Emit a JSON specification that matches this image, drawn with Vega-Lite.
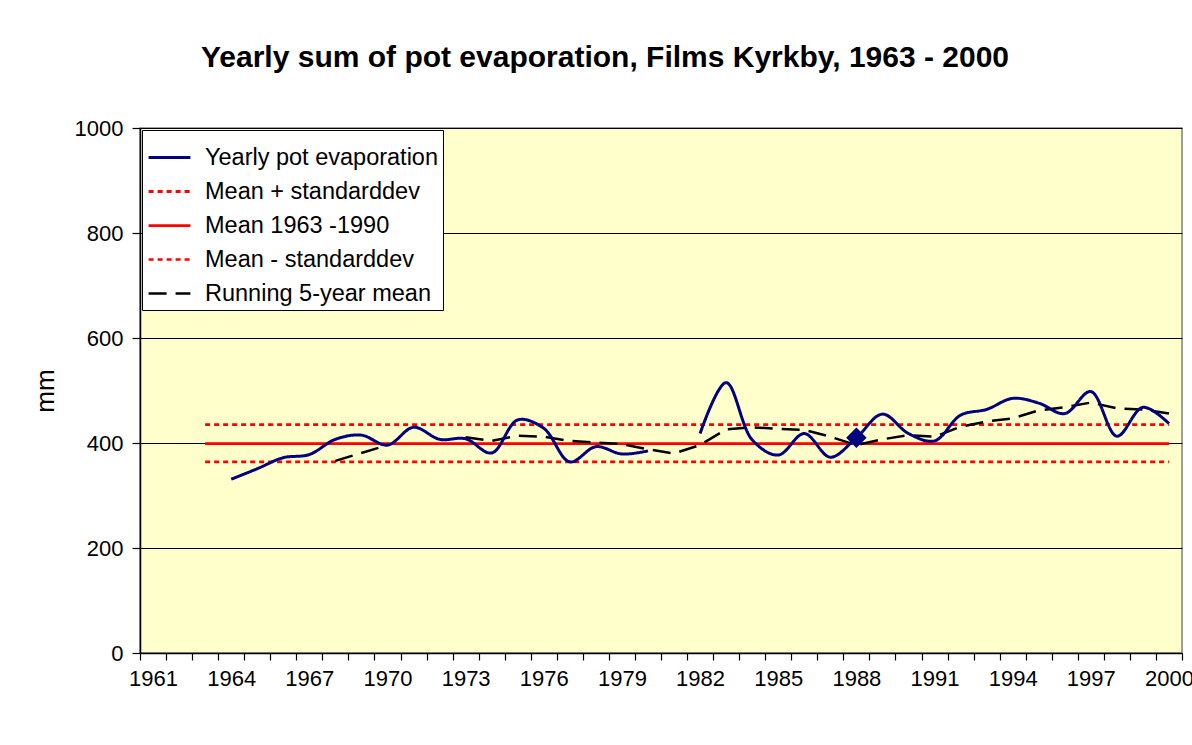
{
  "$schema": "https://vega.github.io/schema/vega-lite/v6.json",
  "width": 1042,
  "height": 525,
  "autosize": {"type": "none"},
  "padding": {"left": 140, "top": 128, "right": 10, "bottom": 92},
  "background": "white",
  "config": {
    "font": "Liberation Sans",
    "view": {"fill": "#FFFFCC", "stroke": "#808080", "strokeWidth": 1.5},
    "axis": {"labelFont": "Liberation Sans", "titleFont": "Liberation Sans", "labelColor": "black", "titleColor": "black", "domainColor": "black", "tickColor": "black"}
  },
  "title": {
    "text": "Yearly sum of pot evaporation, Films Kyrkby, 1963 - 2000",
    "font": "Liberation Sans",
    "fontSize": 30,
    "fontWeight": "bold",
    "color": "black",
    "anchor": "middle",
    "frame": "group",
    "dx": -56,
    "baseline": "alphabetic",
    "offset": 20
  },
  "data": {
    "values": [
      {"year": 1964, "series": "Yearly pot evaporation", "value": 331},
      {"year": 1965, "series": "Yearly pot evaporation", "value": 351},
      {"year": 1966, "series": "Yearly pot evaporation", "value": 372},
      {"year": 1967, "series": "Yearly pot evaporation", "value": 378},
      {"year": 1968, "series": "Yearly pot evaporation", "value": 407},
      {"year": 1969, "series": "Yearly pot evaporation", "value": 415},
      {"year": 1970, "series": "Yearly pot evaporation", "value": 396},
      {"year": 1971, "series": "Yearly pot evaporation", "value": 430},
      {"year": 1972, "series": "Yearly pot evaporation", "value": 407},
      {"year": 1973, "series": "Yearly pot evaporation", "value": 408},
      {"year": 1974, "series": "Yearly pot evaporation", "value": 381},
      {"year": 1975, "series": "Yearly pot evaporation", "value": 444},
      {"year": 1976, "series": "Yearly pot evaporation", "value": 428},
      {"year": 1977, "series": "Yearly pot evaporation", "value": 364},
      {"year": 1978, "series": "Yearly pot evaporation", "value": 393},
      {"year": 1979, "series": "Yearly pot evaporation", "value": 379},
      {"year": 1980, "series": "Yearly pot evaporation", "value": 385},
      {"year": 1981, "series": "Yearly pot evaporation", "value": null},
      {"year": 1982, "series": "Yearly pot evaporation", "value": 418},
      {"year": 1983, "series": "Yearly pot evaporation", "value": 515},
      {"year": 1984, "series": "Yearly pot evaporation", "value": 406},
      {"year": 1985, "series": "Yearly pot evaporation", "value": 377},
      {"year": 1986, "series": "Yearly pot evaporation", "value": 418},
      {"year": 1987, "series": "Yearly pot evaporation", "value": 373},
      {"year": 1988, "series": "Yearly pot evaporation", "value": 410},
      {"year": 1989, "series": "Yearly pot evaporation", "value": 455},
      {"year": 1990, "series": "Yearly pot evaporation", "value": 418},
      {"year": 1991, "series": "Yearly pot evaporation", "value": 404},
      {"year": 1992, "series": "Yearly pot evaporation", "value": 453},
      {"year": 1993, "series": "Yearly pot evaporation", "value": 464},
      {"year": 1994, "series": "Yearly pot evaporation", "value": 485},
      {"year": 1995, "series": "Yearly pot evaporation", "value": 476},
      {"year": 1996, "series": "Yearly pot evaporation", "value": 456},
      {"year": 1997, "series": "Yearly pot evaporation", "value": 498},
      {"year": 1998, "series": "Yearly pot evaporation", "value": 413},
      {"year": 1999, "series": "Yearly pot evaporation", "value": 468},
      {"year": 2000, "series": "Yearly pot evaporation", "value": 437},
      {"year": 1963, "series": "Mean + standarddev", "value": 435},
      {"year": 2000, "series": "Mean + standarddev", "value": 435},
      {"year": 1963, "series": "Mean 1963 -1990", "value": 399},
      {"year": 2000, "series": "Mean 1963 -1990", "value": 399},
      {"year": 1963, "series": "Mean - standarddev", "value": 364},
      {"year": 2000, "series": "Mean - standarddev", "value": 364},
      {"year": 1968, "series": "Running 5-year mean", "value": 366},
      {"year": 1969, "series": "Running 5-year mean", "value": 381},
      {"year": 1970, "series": "Running 5-year mean", "value": 396},
      {"year": 1971, "series": "Running 5-year mean", "value": null},
      {"year": 1972, "series": "Running 5-year mean", "value": null},
      {"year": 1973, "series": "Running 5-year mean", "value": 411},
      {"year": 1974, "series": "Running 5-year mean", "value": 404},
      {"year": 1975, "series": "Running 5-year mean", "value": 414},
      {"year": 1976, "series": "Running 5-year mean", "value": 412},
      {"year": 1977, "series": "Running 5-year mean", "value": 404},
      {"year": 1978, "series": "Running 5-year mean", "value": 401},
      {"year": 1979, "series": "Running 5-year mean", "value": 398},
      {"year": 1980, "series": "Running 5-year mean", "value": 388},
      {"year": 1981, "series": "Running 5-year mean", "value": 380},
      {"year": 1982, "series": "Running 5-year mean", "value": 396},
      {"year": 1983, "series": "Running 5-year mean", "value": 426},
      {"year": 1984, "series": "Running 5-year mean", "value": 430},
      {"year": 1985, "series": "Running 5-year mean", "value": 427},
      {"year": 1986, "series": "Running 5-year mean", "value": 425},
      {"year": 1987, "series": "Running 5-year mean", "value": 412},
      {"year": 1988, "series": "Running 5-year mean", "value": 396},
      {"year": 1989, "series": "Running 5-year mean", "value": 407},
      {"year": 1990, "series": "Running 5-year mean", "value": 415},
      {"year": 1991, "series": "Running 5-year mean", "value": 412},
      {"year": 1992, "series": "Running 5-year mean", "value": 431},
      {"year": 1993, "series": "Running 5-year mean", "value": 441},
      {"year": 1994, "series": "Running 5-year mean", "value": 447},
      {"year": 1995, "series": "Running 5-year mean", "value": 462},
      {"year": 1996, "series": "Running 5-year mean", "value": 468},
      {"year": 1997, "series": "Running 5-year mean", "value": 477},
      {"year": 1998, "series": "Running 5-year mean", "value": 466},
      {"year": 1999, "series": "Running 5-year mean", "value": 464},
      {"year": 2000, "series": "Running 5-year mean", "value": 456},
      {"year": 1988, "series": "Marker", "value": 410}
    ]
  },
  "encoding": {
    "x": {
      "field": "year",
      "type": "ordinal",
      "bandPosition": 0.5,
      "scale": {
        "type": "band",
        "paddingInner": 0,
        "paddingOuter": 0,
        "domain": [1961,1962,1963,1964,1965,1966,1967,1968,1969,1970,1971,1972,1973,1974,1975,1976,1977,1978,1979,1980,1981,1982,1983,1984,1985,1986,1987,1988,1989,1990,1991,1992,1993,1994,1995,1996,1997,1998,1999,2000]
      },
      "axis": {
        "title": null,
        "tickBand": "extent",
        "labelAngle": 0,
        "labelFontSize": 22,
        "labelPadding": 8,
        "labelOverlap": false,
        "tickSize": 7,
        "tickWidth": 1.2,
        "domainWidth": 1.5,
        "grid": false,
        "labelExpr": "(toNumber(datum.value) - 1961) % 3 == 0 ? datum.label : ''"
      }
    },
    "y": {
      "field": "value",
      "type": "quantitative",
      "scale": {"domain": [0, 1000], "nice": false},
      "axis": {
        "title": "mm",
        "titleFontSize": 26,
        "titleFontWeight": "normal",
        "titlePadding": 16,
        "format": "d",
        "values": [0, 200, 400, 600, 800, 1000],
        "labelFontSize": 22,
        "labelPadding": 9,
        "tickSize": 8,
        "tickWidth": 1.2,
        "domainWidth": 1.5,
        "grid": true,
        "gridColor": "black",
        "gridOpacity": 1,
        "gridWidth": 1
      }
    }
  },
  "layer": [
    {
      "transform": [{"filter": "datum.series != 'Yearly pot evaporation' && datum.series != 'Marker'"}],
      "mark": {"type": "line", "interpolate": "linear", "invalid": "break-paths-show-domains"},
      "encoding": {
        "color": {
          "field": "series",
          "type": "nominal",
          "scale": {
            "domain": ["Yearly pot evaporation", "Mean + standarddev", "Mean 1963 -1990", "Mean - standarddev", "Running 5-year mean"],
            "range": ["#000080", "#FF0000", "#FF0000", "#FF0000", "#000000"]
          },
          "legend": {
            "title": null,
            "orient": "top-left",
            "offset": 2,
            "fillColor": "white",
            "strokeColor": "black",
            "padding": 5,
            "symbolType": "stroke",
            "symbolSize": 1750,
            "symbolStrokeWidth": 2.5,
            "labelFontSize": 23.5,
            "labelFont": "Liberation Sans",
            "labelColor": "black",
            "labelOffset": 13,
            "labelLimit": 400,
            "rowPadding": 0
          }
        },
        "strokeDash": {
          "field": "series",
          "type": "nominal",
          "scale": {
            "domain": ["Yearly pot evaporation", "Mean + standarddev", "Mean 1963 -1990", "Mean - standarddev", "Running 5-year mean"],
            "range": [[1, 0], [5, 4], [1, 0], [5, 4], [18, 9]]
          },
          "legend": null
        },
        "strokeWidth": {
          "field": "series",
          "type": "nominal",
          "scale": {
            "domain": ["Yearly pot evaporation", "Mean + standarddev", "Mean 1963 -1990", "Mean - standarddev", "Running 5-year mean"],
            "range": [3, 2.5, 1, 2.5, 3.5]
          },
          "legend": null
        }
      }
    },
    {
      "transform": [{"filter": "datum.series == 'Yearly pot evaporation'"}],
      "mark": {"type": "line", "interpolate": "catmull-rom", "invalid": "break-paths-show-domains"},
      "encoding": {
        "color": {"field": "series", "type": "nominal"},
        "strokeDash": {"field": "series", "type": "nominal"},
        "strokeWidth": {"field": "series", "type": "nominal"}
      }
    },
    {
      "transform": [{"filter": "datum.series == 'Marker'"}],
      "mark": {"type": "point", "shape": "diamond", "filled": true, "size": 420, "color": "#000080", "opacity": 1},
      "encoding": {}
    }
  ]
}
